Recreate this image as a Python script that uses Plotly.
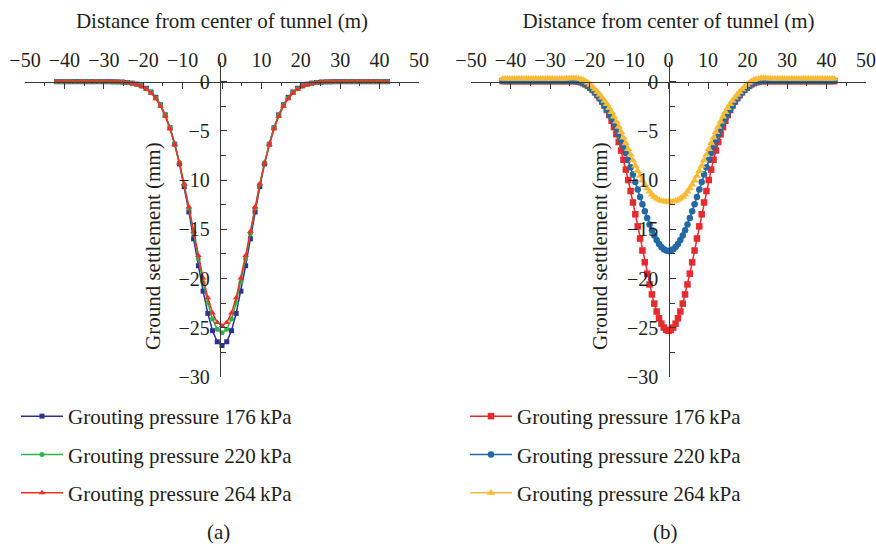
import plotly.graph_objects as go

# ---------------- data: panel (a) ----------------
x_a = [-42.0, -40.8, -39.6, -38.4, -37.2, -36.0, -34.8, -33.6, -32.4, -31.2,
       -30.0, -28.8, -27.6, -26.4, -25.2, -24.0, -22.8, -21.6, -20.4, -19.2,
       -18.0, -16.8, -15.6, -14.4, -13.2, -12.0, -10.8, -9.6, -8.4, -7.2,
       -6.0, -4.8, -3.6, -2.4, -1.2,
       0.0,
       1.2, 2.4, 3.6, 4.8, 6.0,
       7.2, 8.4, 9.6, 10.8, 12.0, 13.2, 14.4, 15.6, 16.8, 18.0,
       19.2, 20.4, 21.6, 22.8, 24.0, 25.2, 26.4, 27.6, 28.8, 30.0,
       31.2, 32.4, 33.6, 34.8, 36.0, 37.2, 38.4, 39.6, 40.8, 42.0]

a_176 = [0.00, 0.00, 0.00, 0.00, 0.00, 0.00, 0.00, 0.00, 0.00, 0.00,
         0.00, 0.00, -0.01, -0.02, -0.04, -0.08, -0.15, -0.25, -0.42, -0.67,
         -1.05, -1.59, -2.35, -3.37, -4.69, -6.35, -8.35, -10.66, -13.23, -15.96,
         -18.70, -21.28, -23.54, -25.30, -26.42,
         -26.80,
         -26.42, -25.30, -23.54, -21.28, -18.70,
         -15.96, -13.23, -10.66, -8.35, -6.35, -4.69, -3.37, -2.35, -1.59, -1.05,
         -0.67, -0.42, -0.25, -0.15, -0.08, -0.04, -0.02, -0.01, 0.00, 0.00,
         0.00, 0.00, 0.00, 0.00, 0.00, 0.00, 0.00, 0.00, 0.00, 0.00]

a_220 = [0.00, 0.00, 0.00, 0.00, 0.00, 0.00, 0.00, 0.00, 0.00, 0.00,
         0.00, -0.01, -0.02, -0.03, -0.05, -0.09, -0.16, -0.28, -0.45, -0.71,
         -1.10, -1.65, -2.40, -3.41, -4.70, -6.30, -8.22, -10.42, -12.85, -15.41,
         -17.98, -20.39, -22.49, -24.11, -25.15,
         -25.50,
         -25.15, -24.11, -22.49, -20.39, -17.98,
         -15.41, -12.85, -10.42, -8.22, -6.30, -4.70, -3.41, -2.40, -1.65, -1.10,
         -0.71, -0.45, -0.28, -0.16, -0.09, -0.05, -0.03, -0.02, -0.01, 0.00,
         0.00, 0.00, 0.00, 0.00, 0.00, 0.00, 0.00, 0.00, 0.00, 0.00]

a_264 = [0.00, 0.00, 0.00, 0.00, 0.00, 0.00, 0.00, 0.00, 0.00, 0.00,
         0.00, -0.01, -0.02, -0.03, -0.06, -0.11, -0.18, -0.30, -0.49, -0.77,
         -1.17, -1.73, -2.50, -3.51, -4.79, -6.38, -8.25, -10.40, -12.74, -15.21,
         -17.66, -19.95, -21.95, -23.49, -24.47,
         -24.80,
         -24.47, -23.49, -21.95, -19.95, -17.66,
         -15.21, -12.74, -10.40, -8.25, -6.38, -4.79, -3.51, -2.50, -1.73, -1.17,
         -0.77, -0.49, -0.30, -0.18, -0.11, -0.06, -0.03, -0.02, -0.01, 0.00,
         0.00, 0.00, 0.00, 0.00, 0.00, 0.00, 0.00, 0.00, 0.00, 0.00]

# ---------------- data: panel (b) ----------------
x_b = [-42.0, -41.4, -40.8, -40.2, -39.6, -39.0, -38.4, -37.8, -37.2, -36.6,
       -36.0, -35.4, -34.8, -34.2, -33.6, -33.0, -32.4, -31.8, -31.2, -30.6,
       -30.0, -29.4, -28.8, -28.2, -27.6, -27.0, -26.4, -25.8, -25.2, -24.6,
       -24.0, -23.4, -22.8, -22.2, -21.6, -21.0, -20.4, -19.8, -19.2, -18.6,
       -18.0, -17.4, -16.8, -16.2, -15.6, -15.0, -14.4, -13.8, -13.2, -12.6,
       -12.0, -11.4, -10.8, -10.2, -9.6, -9.0, -8.4, -7.8, -7.2, -6.6,
       -6.0, -5.4, -4.8, -4.2, -3.6, -3.0, -2.4, -1.8, -1.2, -0.6,
       0.0,
       0.6, 1.2, 1.8, 2.4, 3.0, 3.6, 4.2, 4.8, 5.4, 6.0,
       6.6, 7.2, 7.8, 8.4, 9.0, 9.6, 10.2, 10.8, 11.4, 12.0,
       12.6, 13.2, 13.8, 14.4, 15.0, 15.6, 16.2, 16.8, 17.4, 18.0,
       18.6, 19.2, 19.8, 20.4, 21.0, 21.6, 22.2, 22.8, 23.4, 24.0,
       24.6, 25.2, 25.8, 26.4, 27.0, 27.6, 28.2, 28.8, 29.4, 30.0,
       30.6, 31.2, 31.8, 32.4, 33.0, 33.6, 34.2, 34.8, 35.4, 36.0,
       36.6, 37.2, 37.8, 38.4, 39.0, 39.6, 40.2, 40.8, 41.4, 42.0]

b_176 = [0.06, 0.06, 0.06, 0.06, 0.06, 0.06, 0.06, 0.06, 0.06, 0.06,
         0.06, 0.06, 0.06, 0.06, 0.06, 0.06, 0.06, 0.06, 0.06, 0.06,
         0.06, 0.06, 0.06, 0.06, 0.06, 0.06, 0.06, 0.06, 0.06, 0.06,
         0.06, 0.04, 0.00, -0.06, -0.15, -0.27, -0.42, -0.61, -0.83, -1.08,
         -1.35, -1.66, -2.02, -2.43, -2.88, -3.39, -3.97, -4.62, -5.34, -6.13,
         -6.99, -7.93, -8.93, -9.99, -11.11, -12.27, -13.47, -14.70, -15.93, -17.15,
         -18.35, -19.50, -20.60, -21.61, -22.54, -23.35, -24.03, -24.58, -24.98, -25.22,
         -25.30,
         -25.22, -24.98, -24.58, -24.03, -23.35, -22.54, -21.61, -20.60, -19.50, -18.35,
         -17.15, -15.93, -14.70, -13.47, -12.27, -11.11, -9.99, -8.93, -7.93, -6.99,
         -6.13, -5.34, -4.62, -3.97, -3.39, -2.88, -2.43, -2.02, -1.66, -1.35,
         -1.08, -0.83, -0.61, -0.42, -0.27, -0.15, -0.06, 0.00, 0.04, 0.06,
         0.06, 0.06, 0.06, 0.06, 0.06, 0.06, 0.06, 0.06, 0.06, 0.06,
         0.06, 0.06, 0.06, 0.06, 0.06, 0.06, 0.06, 0.06, 0.06, 0.06,
         0.06, 0.06, 0.06, 0.06, 0.06, 0.06, 0.06, 0.06, 0.06, 0.06]

b_220 = [0.10, 0.10, 0.10, 0.10, 0.10, 0.10, 0.10, 0.10, 0.10, 0.10,
         0.10, 0.10, 0.10, 0.10, 0.10, 0.10, 0.10, 0.10, 0.10, 0.10,
         0.10, 0.10, 0.10, 0.10, 0.10, 0.10, 0.10, 0.10, 0.10, 0.10,
         0.09, 0.07, 0.03, -0.04, -0.13, -0.26, -0.42, -0.62, -0.85, -1.11,
         -1.40, -1.71, -2.05, -2.42, -2.82, -3.25, -3.70, -4.20, -4.73, -5.31,
         -5.92, -6.57, -7.25, -7.96, -8.69, -9.44, -10.20, -10.96, -11.72, -12.46,
         -13.17, -13.86, -14.50, -15.09, -15.63, -16.09, -16.48, -16.79, -17.02, -17.15,
         -17.20,
         -17.15, -17.02, -16.79, -16.48, -16.09, -15.63, -15.09, -14.50, -13.86, -13.17,
         -12.46, -11.72, -10.96, -10.20, -9.44, -8.69, -7.96, -7.25, -6.57, -5.92,
         -5.31, -4.73, -4.20, -3.70, -3.25, -2.82, -2.42, -2.05, -1.71, -1.40,
         -1.11, -0.85, -0.62, -0.42, -0.26, -0.13, -0.04, 0.03, 0.07, 0.09,
         0.10, 0.10, 0.10, 0.10, 0.10, 0.10, 0.10, 0.10, 0.10, 0.10,
         0.10, 0.10, 0.10, 0.10, 0.10, 0.10, 0.10, 0.10, 0.10, 0.10,
         0.10, 0.10, 0.10, 0.10, 0.10, 0.10, 0.10, 0.10, 0.10, 0.10]

b_264 = [0.30, 0.30, 0.30, 0.30, 0.30, 0.30, 0.30, 0.30, 0.30, 0.30,
         0.30, 0.30, 0.30, 0.30, 0.30, 0.30, 0.30, 0.30, 0.30, 0.30,
         0.30, 0.30, 0.30, 0.30, 0.30, 0.30, 0.31, 0.32, 0.33, 0.34,
         0.35, 0.34, 0.31, 0.25, 0.16, 0.04, -0.12, -0.32, -0.55, -0.79,
         -1.05, -1.33, -1.62, -1.94, -2.29, -2.68, -3.10, -3.56, -4.06, -4.58,
         -5.12, -5.69, -6.26, -6.84, -7.42, -7.99, -8.55, -9.08, -9.58, -10.04,
         -10.46, -10.84, -11.17, -11.46, -11.69, -11.87, -12.01, -12.11, -12.17, -12.19,
         -12.20,
         -12.19, -12.17, -12.11, -12.01, -11.87, -11.69, -11.46, -11.17, -10.84, -10.46,
         -10.04, -9.58, -9.08, -8.55, -7.99, -7.42, -6.84, -6.26, -5.69, -5.12,
         -4.58, -4.06, -3.56, -3.10, -2.68, -2.29, -1.94, -1.62, -1.33, -1.05,
         -0.79, -0.55, -0.32, -0.12, 0.04, 0.16, 0.25, 0.31, 0.34, 0.35,
         0.34, 0.33, 0.32, 0.31, 0.30, 0.30, 0.30, 0.30, 0.30, 0.30,
         0.30, 0.30, 0.30, 0.30, 0.30, 0.30, 0.30, 0.30, 0.30, 0.30,
         0.30, 0.30, 0.30, 0.30, 0.30, 0.30, 0.30, 0.30, 0.30, 0.30]

series_names = ["Grouting pressure 176\u2009kPa",
                "Grouting pressure 220\u2009kPa",
                "Grouting pressure 264\u2009kPa"]
x_ticks = [-50, -40, -30, -20, -10, 0, 10, 20, 30, 40, 50]
y_ticks = [-30, -25, -20, -15, -10, -5, 0]
x_title = "Distance from center of tunnel (m)"
y_title = "Ground settlement (mm)"
captions = ["(a)", "(b)"]

# ---------------- styling ----------------
W, H = 876, 546
FONT = "Liberation Serif"
TXT = "#231f20"
AX = "#3a3a3a"

colors_a = ["#2e3192", "#2fb34c", "#ee3124"]
colors_b = ["#e62a2d", "#2469a5", "#f9ba36"]
symbols = ["square", "circle", "triangle-up"]

fig = go.Figure()

for i, (ys, col, sym) in enumerate(zip([a_176, a_220, a_264], colors_a, symbols)):
    fig.add_trace(go.Scatter(
        x=x_a, y=ys, mode="lines+markers", name=series_names[i],
        line=dict(color=col, width=1.5),
        marker=dict(symbol=sym, size=5 if sym != "triangle-up" else 6, color=col),
        xaxis="x", yaxis="y", legend="legend", legendgroup="a%d" % i,
        cliponaxis=False))

for i, (ys, col, sym) in enumerate(zip([b_176, b_220, b_264], colors_b, symbols)):
    fig.add_trace(go.Scatter(
        x=x_b, y=ys, mode="lines+markers", name=series_names[i],
        line=dict(color=col, width=1.5),
        marker=dict(symbol=sym, size=6.5 if sym != "triangle-up" else 7.5, color=col),
        xaxis="x2", yaxis="y2", legend="legend2", legendgroup="b%d" % i,
        cliponaxis=False))

y_dom = [1 - 377 / H, 1 - 62 / H]
x_pos = 1 - 82 / H


def xaxis_cfg(dom):
    return dict(domain=dom, range=[-50, 50], anchor="free", position=x_pos,
                side="top", tickmode="array", tickvals=x_ticks,
                ticks="inside", ticklen=6, tickwidth=1.2, tickcolor=AX,
                minor=dict(dtick=5, tick0=0, ticks="inside", ticklen=3,
                           tickwidth=1.2, tickcolor=AX),
                showline=True, linecolor=AX, linewidth=1.3,
                showgrid=False, zeroline=False, automargin=False,
                tickfont=dict(size=20, color=TXT, family=FONT),
                ticklabelstandoff=7,
                title=dict(text=x_title, font=dict(size=21, color=TXT, family=FONT),
                           standoff=13),
                fixedrange=True)


def yaxis_cfg(pos):
    return dict(domain=y_dom, range=[-30, 2.0], anchor="free", position=pos,
                side="left", tickmode="array", tickvals=y_ticks,
                ticks="inside", ticklen=6, tickwidth=1.2, tickcolor=AX,
                minor=dict(dtick=2.5, tick0=0, ticks="inside", ticklen=5,
                           tickwidth=1.2, tickcolor=AX),
                showline=True, linecolor=AX, linewidth=1.3,
                showgrid=False, zeroline=False, automargin=False,
                tickfont=dict(size=20, color=TXT, family=FONT),
                ticklabelstandoff=6,
                fixedrange=True)


def ann(text, x, y, angle=0):
    return dict(text=text, x=x / W, y=1 - y / H, xref="paper", yref="paper",
                xanchor="center", yanchor="middle", textangle=angle,
                showarrow=False, font=dict(size=21, color=TXT, family=FONT))


fig.update_layout(
    width=W, height=H,
    margin=dict(l=0, r=0, t=0, b=0, autoexpand=False),
    paper_bgcolor="white", plot_bgcolor="white",
    font=dict(family=FONT, size=20, color=TXT),
    hovermode=False,
    xaxis=xaxis_cfg([25 / W, 419 / W]),
    yaxis=yaxis_cfg(220 / W),
    xaxis2=xaxis_cfg([471 / W, 866 / W]),
    yaxis2=yaxis_cfg(668.5 / W),
    legend=dict(x=16 / W, y=1 - 396 / H, xanchor="left", yanchor="top",
                font=dict(size=21, color=TXT, family=FONT),
                tracegroupgap=8, itemwidth=42, bgcolor="rgba(0,0,0,0)"),
    legend2=dict(x=465 / W, y=1 - 396 / H, xanchor="left", yanchor="top",
                 font=dict(size=21, color=TXT, family=FONT),
                 tracegroupgap=8, itemwidth=42, bgcolor="rgba(0,0,0,0)"),
    annotations=[
        ann(y_title, 153, 246, -90),
        ann(y_title, 600, 246, -90),
        ann(captions[0], 218, 532),
        ann(captions[1], 665, 532),
    ],
)

fig.write_html("out.html",
               config={"displayModeBar": False, "staticPlot": False},
               post_script="document.body.style.margin='0px';"
                           "document.body.style.overflow='hidden';")
